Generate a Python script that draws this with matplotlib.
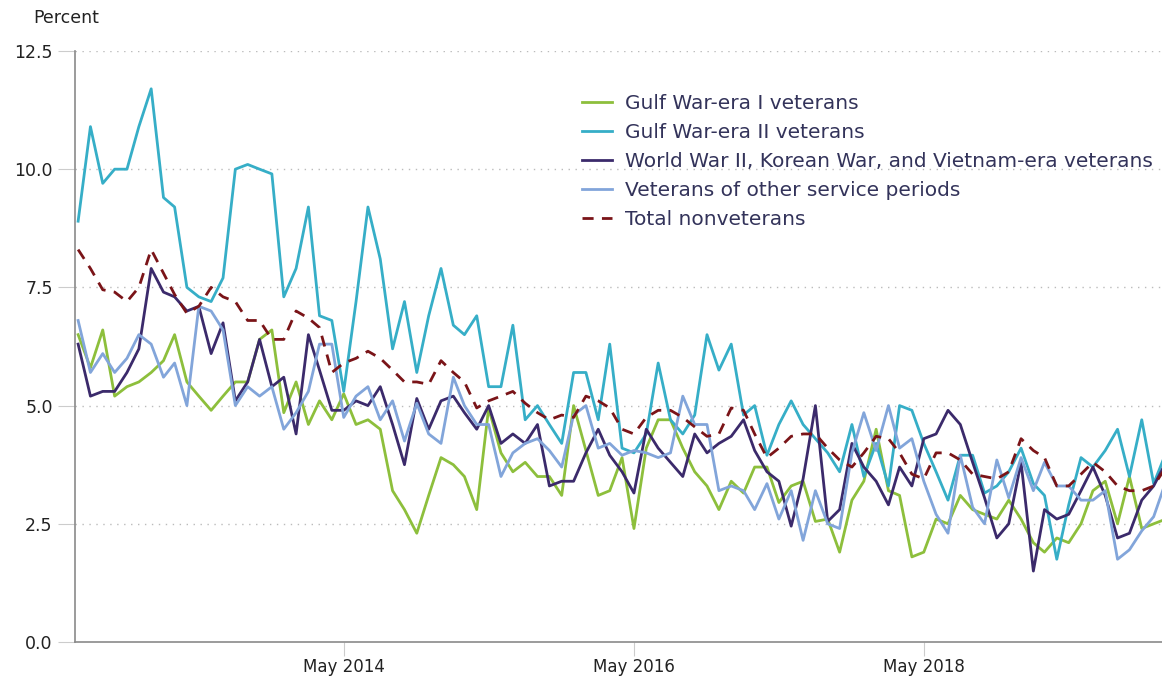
import pandas as pd
import matplotlib
matplotlib.use("Agg")
import matplotlib.pyplot as plt
import matplotlib.dates as mdates

# monthly unemployment rates, Jul 2012 onward
months = pd.date_range("2012-07-01", periods=91, freq="MS")

gulf1 = [6.5, 5.8, 6.6, 5.2, 5.4, 5.5, 5.7, 5.95, 6.5, 5.5,
         5.2, 4.9, 5.2, 5.5, 5.5, 6.4, 6.6, 4.85, 5.5, 4.6,
         5.1, 4.7, 5.25, 4.6, 4.7, 4.5, 3.2, 2.8, 2.3, 3.1,
         3.9, 3.75, 3.5, 2.8, 4.95, 4.0, 3.6, 3.8, 3.5, 3.5,
         3.1, 5.0, 4.05, 3.1, 3.2, 3.9, 2.4, 4.1, 4.7, 4.7,
         4.1, 3.6, 3.3, 2.8, 3.4, 3.15, 3.7, 3.7, 2.95, 3.3,
         3.4, 2.55, 2.6, 1.9, 3.0, 3.4, 4.5, 3.2, 3.1, 1.8,
         1.9, 2.6, 2.5, 3.1, 2.8, 2.7, 2.6, 3.0, 2.6, 2.1,
         1.9, 2.2, 2.1, 2.5, 3.2, 3.4, 2.5, 3.5, 2.4, 2.5,
         2.6]

gulf2 = [8.9, 10.9, 9.7, 10.0, 10.0, 10.9, 11.7, 9.4, 9.2, 7.5,
         7.3, 7.2, 7.7, 10.0, 10.1, 10.0, 9.9, 7.3, 7.9, 9.2,
         6.9, 6.8, 5.3, 7.2, 9.2, 8.1, 6.2, 7.2, 5.7, 6.9,
         7.9, 6.7, 6.5, 6.9, 5.4, 5.4, 6.7, 4.7, 5.0, 4.6,
         4.2, 5.7, 5.7, 4.7, 6.3, 4.1, 4.0, 4.4, 5.9, 4.7,
         4.4, 4.8, 6.5, 5.75, 6.3, 4.8, 5.0, 3.95, 4.6, 5.1,
         4.6, 4.3, 4.0, 3.6, 4.6, 3.5, 4.2, 3.3, 5.0, 4.9,
         4.2, 3.6, 3.0, 3.95, 3.95, 3.15, 3.3, 3.6, 4.1, 3.35,
         3.1, 1.75, 2.9, 3.9, 3.7, 4.05, 4.5, 3.5, 4.7, 3.35,
         4.0]

ww2_korea_vietnam = [6.3, 5.2, 5.3, 5.3, 5.7, 6.2, 7.9, 7.4, 7.3, 7.0,
                     7.1, 6.1, 6.75, 5.1, 5.5, 6.4, 5.4, 5.6, 4.4, 6.5,
                     5.75, 4.9, 4.9, 5.1, 5.0, 5.4, 4.6, 3.75, 5.15, 4.5,
                     5.1, 5.2, 4.85, 4.5, 5.0, 4.2, 4.4, 4.2, 4.6, 3.3,
                     3.4, 3.4, 4.0, 4.5, 3.95, 3.6, 3.15, 4.5, 4.1, 3.8,
                     3.5, 4.4, 4.0, 4.2, 4.35, 4.7, 4.05, 3.6, 3.4, 2.45,
                     3.45, 5.0, 2.55, 2.8, 4.2, 3.7, 3.4, 2.9, 3.7, 3.3,
                     4.3, 4.4, 4.9, 4.6, 3.8, 3.05, 2.2, 2.5, 3.8, 1.5,
                     2.8, 2.6, 2.7, 3.2, 3.7, 3.1, 2.2, 2.3, 3.0, 3.3,
                     3.8]

other_periods = [6.8, 5.7, 6.1, 5.7, 6.0, 6.5, 6.3, 5.6, 5.9, 5.0,
                 7.1, 7.0, 6.6, 5.0, 5.4, 5.2, 5.4, 4.5, 4.85, 5.3,
                 6.3, 6.3, 4.75, 5.2, 5.4, 4.7, 5.1, 4.25, 5.05, 4.4,
                 4.2, 5.6, 5.0, 4.6, 4.6, 3.5, 4.0, 4.2, 4.3, 4.05,
                 3.7, 4.8, 5.0, 4.1, 4.2, 3.95, 4.05, 4.0, 3.9, 4.0,
                 5.2, 4.6, 4.6, 3.2, 3.3, 3.2, 2.8, 3.35, 2.6, 3.2,
                 2.15, 3.2, 2.5, 2.4, 4.0, 4.85, 4.05, 5.0, 4.1, 4.3,
                 3.4, 2.7, 2.3, 3.95, 2.85, 2.5, 3.85, 3.05, 3.9, 3.2,
                 3.8, 3.3, 3.3, 3.0, 3.0, 3.2, 1.75, 1.95, 2.35, 2.65,
                 3.4]

nonveterans = [8.3, 7.9, 7.45, 7.4, 7.2, 7.5, 8.3, 7.8, 7.35, 6.95,
               7.1, 7.5, 7.3, 7.2, 6.8, 6.8, 6.4, 6.4, 7.0, 6.85,
               6.65, 5.7, 5.9, 6.0, 6.15, 6.0, 5.75, 5.5, 5.5, 5.45,
               5.95, 5.7, 5.5, 4.95, 5.1, 5.2, 5.3, 5.05, 4.85, 4.7,
               4.8, 4.75, 5.2, 5.1, 4.95, 4.5, 4.4, 4.75, 4.9, 4.9,
               4.75, 4.55, 4.35, 4.4, 4.95, 4.9, 4.4, 3.9, 4.1, 4.35,
               4.4, 4.4, 4.1, 3.85, 3.7, 4.0, 4.35, 4.3, 4.0, 3.55,
               3.45, 4.0, 4.0, 3.85, 3.55, 3.5, 3.45, 3.6, 4.3, 4.05,
               3.9, 3.3, 3.3, 3.55, 3.8, 3.6, 3.3, 3.2, 3.2, 3.3,
               3.7]

labels = ["Gulf War-era I veterans",
          "Gulf War-era II veterans",
          "World War II, Korean War, and Vietnam-era veterans",
          "Veterans of other service periods",
          "Total nonveterans"]
colors = ["#8dbf3c", "#36aec7", "#3b2a6b", "#82a5da", "#7a1418"]
ytick_vals = [0.0, 2.5, 5.0, 7.5, 10.0, 12.5]
xtick_dates = ["2014-05-01", "2016-05-01", "2018-05-01"]

fig = plt.figure(figsize=(11.62, 6.77), dpi=100)
ax = fig.add_axes([0.0645, 0.0517, 0.9355, 0.873])

series = [gulf1, gulf2, ww2_korea_vietnam, other_periods, nonveterans]
for vals, lab, col in zip(series, labels, colors):
    if lab == "Total nonveterans":
        ax.plot(months, vals, color=col, lw=2.0, ls=(0, (4, 3)), label=lab)
    else:
        ax.plot(months, vals, color=col, lw=2.0, label=lab)

ax.set_ylim(0, 12.5)
ax.set_xlim(months[0] - pd.Timedelta(days=8), pd.Timestamp("2019-12-22"))
ax.set_yticks(ytick_vals)
ax.set_yticklabels([f"{v:.1f}" for v in ytick_vals])
ax.set_xticks(pd.to_datetime(xtick_dates))
ax.xaxis.set_major_formatter(mdates.DateFormatter("%b %Y"))

for v in ytick_vals[1:]:
    ax.axhline(v, color="#bbbbbb", lw=1.0, ls=(0, (1, 4)), zorder=0)

for s in ["top", "right"]:
    ax.spines[s].set_visible(False)
for s in ["left", "bottom"]:
    ax.spines[s].set_color("#8a8a8a")
    ax.spines[s].set_linewidth(1.2)

ax.tick_params(axis="y", length=12, color="#cccccc", labelsize=12.5,
               labelcolor="#222222", pad=4)
ax.tick_params(axis="x", length=10, color="#cccccc", labelsize=12,
               labelcolor="#222222", pad=1.5)

fig.text(0.029, 0.973, "Percent", fontsize=12.5, color="#222222", va="center")

leg = ax.legend(loc="upper left", bbox_to_anchor=(0.466, 0.927), frameon=False,
                fontsize=14.5, handlelength=1.5, handletextpad=0.65,
                labelspacing=0.5, borderaxespad=0, borderpad=0)
for t in leg.get_texts():
    t.set_color("#33335a")

fig.savefig("out.png", dpi=100)
